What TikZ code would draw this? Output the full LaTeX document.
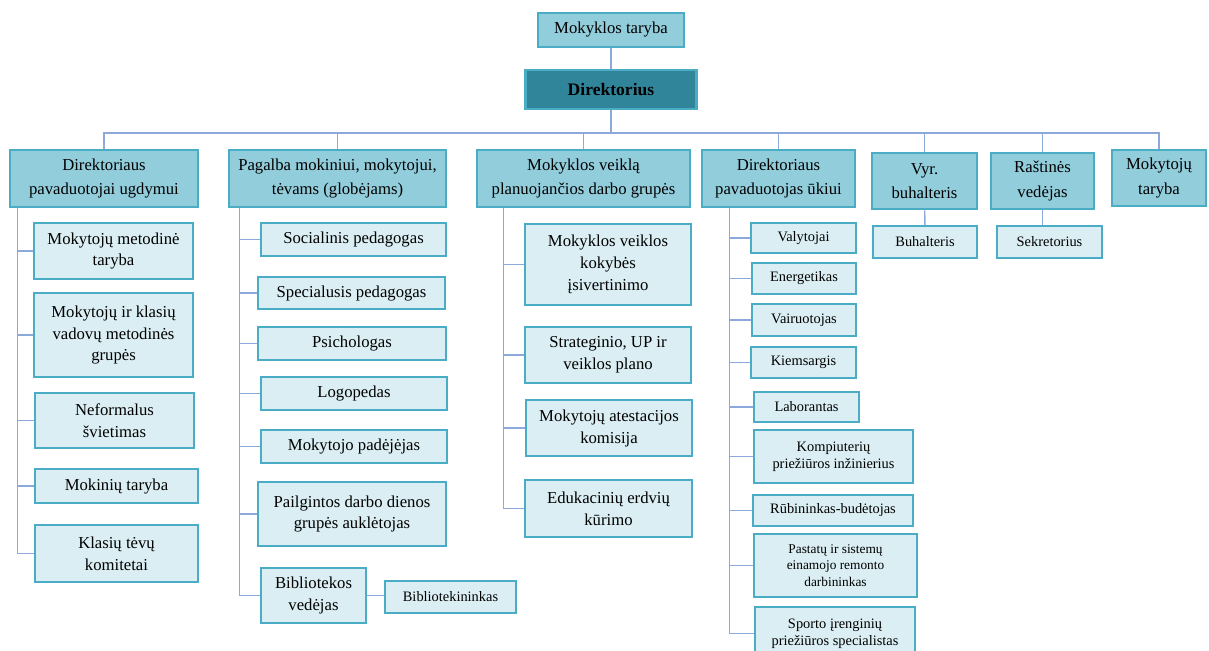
\documentclass[tikz,border=0pt]{standalone}
\usepackage{fontspec}
\setmainfont{Liberation Serif}
\definecolor{boxblue}{RGB}{146,205,220}
\definecolor{paleblue}{RGB}{218,238,243}
\definecolor{edgeblue}{RGB}{75,172,198}
\definecolor{darkteal}{RGB}{49,133,155}
\definecolor{linkblue}{RGB}{141,169,219}

\begin{document}
\begin{tikzpicture}[x=0.02cm, y=-0.02cm,
    basebox/.style={draw=edgeblue, align=center, inner sep=0pt, text=black},
    topbox/.style={basebox, fill=boxblue, line width=1.6pt, font=\fontsize{9.5}{14}\selectfont},
    subbox/.style={basebox, fill=paleblue, line width=1.6pt, font=\fontsize{9.5}{12.5}\selectfont},
    smallbox/.style={basebox, fill=paleblue, line width=1.2pt, font=\fontsize{8.2}{9.6}\selectfont},
    sz/.style 2 args={minimum width=#1*0.02cm, minimum height=#2*0.02cm},
    linkline/.style={draw=linkblue, line width=0.8pt}]
    \useasboundingbox (0,0) rectangle (1209,650);
    \clip (0,0) rectangle (1209,650);

    % Top of the chart
    \node[topbox, sz={146}{34}] (mt) at (611,30) {Mokyklos taryba};
    \node[basebox, fill=darkteal, line width=1.6pt, sz={171}{39}, font=\fontsize{10}{12}\selectfont\bfseries] (dir) at (611,89.5) {Direktorius};
    \coordinate (bus) at (0,133);

    % First level
    \node[topbox, sz={188}{57}] (dpu) at (104,178.5) {Direktoriaus\\pavaduotojai ugdymui};
    \node[topbox, sz={217}{57}] (pag) at (337.5,178.5) {Pagalba mokiniui, mokytojui,\\tėvams (globėjams)};
    \node[topbox, sz={213}{57}] (mvp) at (583.5,178.5) {Mokyklos veiklą\\planuojančios darbo grupės};
    \node[topbox, sz={153}{57}] (dpk) at (778.5,178.5) {Direktoriaus\\pavaduotojas ūkiui};
    \node[topbox, sz={105}{56}] (vb) at (924.5,181) {Vyr.\\buhalteris};
    \node[topbox, sz={103}{56}] (rv) at (1042.5,181) {Raštinės\\vedėjas};
    \node[topbox, sz={94}{56}] (mtt) at (1159,178) {Mokytojų\\taryba};

    % Column 1
    \node[subbox, sz={159}{56}] (c1a) at (113.5,251) {Mokytojų metodinė\\taryba};
    \node[subbox, sz={159}{84}] (c1b) at (113.5,335) {Mokytojų ir klasių\\vadovų metodinės\\grupės};
    \node[subbox, sz={159}{55}] (c1c) at (114.5,420.5) {Neformalus\\švietimas};
    \node[subbox, sz={163}{34}] (c1d) at (116.5,486) {Mokinių taryba};
    \node[subbox, sz={163}{57}] (c1e) at (116.5,553.5) {Klasių tėvų\\komitetai};

    % Column 2
    \node[subbox, sz={185}{33}] (c2a) at (353.5,239.5) {Socialinis pedagogas};
    \node[subbox, sz={187}{32}] (c2b) at (351.5,293) {Specialusis pedagogas};
    \node[subbox, sz={188}{33}] (c2c) at (352,343.5) {Psichologas};
    \node[subbox, sz={186}{33}] (c2d) at (354,393.5) {Logopedas};
    \node[subbox, sz={186}{33}] (c2e) at (354,446.5) {Mokytojo padėjėjas};
    \node[subbox, sz={188}{64}] (c2f) at (352,514) {Pailgintos darbo dienos\\grupės auklėtojas};
    \node[subbox, sz={105}{55}] (c2g) at (313.5,595.5) {Bibliotekos\\vedėjas};
    \node[smallbox, sz={131}{32}] (bib) at (450.5,597) {Bibliotekininkas};

    % Column 3
    \node[subbox, sz={166}{81}] (c3a) at (608,264.5) {Mokyklos veiklos\\kokybės\\įsivertinimo};
    \node[subbox, sz={166}{56}] (c3b) at (608,355) {Strateginio, UP ir\\veiklos plano};
    \node[subbox, sz={166}{56}] (c3c) at (609,428) {Mokytojų atestacijos\\komisija};
    \node[subbox, sz={167}{57}] (c3d) at (608.5,508.5) {Edukacinių erdvių\\kūrimo};

    % Column 4
    \node[smallbox, sz={105}{30}] (c4a) at (803.5,238) {Valytojai};
    \node[smallbox, sz={104}{31}] (c4b) at (804,278.5) {Energetikas};
    \node[smallbox, sz={104}{32}] (c4c) at (804,320) {Vairuotojas};
    \node[smallbox, sz={105}{31}] (c4d) at (803.5,362.5) {Kiemsargis};
    \node[smallbox, sz={105}{30}] (c4e) at (806.5,407) {Laborantas};
    \node[smallbox, sz={159}{53}] (c4f) at (833.5,456.5) {Kompiuterių\\priežiūros inžinierius};
    \node[smallbox, sz={160}{31}] (c4g) at (833,510.5) {Rūbininkas-budėtojas};
    \node[smallbox, sz={163}{63}, font=\fontsize{7.6}{9.4}\selectfont] (c4h) at (835.5,565.5) {Pastatų ir sistemų\\einamojo remonto\\darbininkas};
    \node[smallbox, sz={160}{53}] (c4i) at (835,633.5) {Sporto įrenginių\\priežiūros specialistas};

    % Columns 5 and 6
    \node[smallbox, sz={104}{32}] (buh) at (925,242) {Buhalteris};
    \node[smallbox, sz={105}{32}] (sek) at (1049.5,242) {Sekretorius};

    % Connectors
    \draw[linkline] (mt) -- (dir);
    \draw[linkline] (dir) -- (dir.south |- bus);
    \draw[linkline] (dpu.north) -- (dpu.north |- bus) -- (mtt.north |- bus) -- (mtt.north);
    \foreach \n in {pag,mvp,dpk,vb,rv} {
        \draw[linkline] (\n.north) -- (\n.north |- bus);
    }
    \foreach \c in {c1a,c1b,c1c,c1d,c1e} {
        \draw[linkline] ([xshift=0.18cm]dpu.south west) |- (\c.west);
    }
    \foreach \c in {c2a,c2b,c2c,c2d,c2e,c2f,c2g} {
        \draw[linkline] ([xshift=0.24cm]pag.south west) |- (\c.west);
    }
    \foreach \c in {c3a,c3b,c3c,c3d} {
        \draw[linkline] ([xshift=0.56cm]mvp.south west) |- (\c.west);
    }
    \foreach \c in {c4a,c4b,c4c,c4d,c4e,c4f,c4g,c4h,c4i} {
        \draw[linkline] ([xshift=0.58cm]dpk.south west) |- (\c.west);
    }
    \draw[linkline] (c2g.east) -- (c2g.east -| bib.west);
    \draw[linkline] (vb) -- (buh);
    \draw[linkline] (rv.south) -- (rv.south |- sek.north);
\end{tikzpicture}
\end{document}
